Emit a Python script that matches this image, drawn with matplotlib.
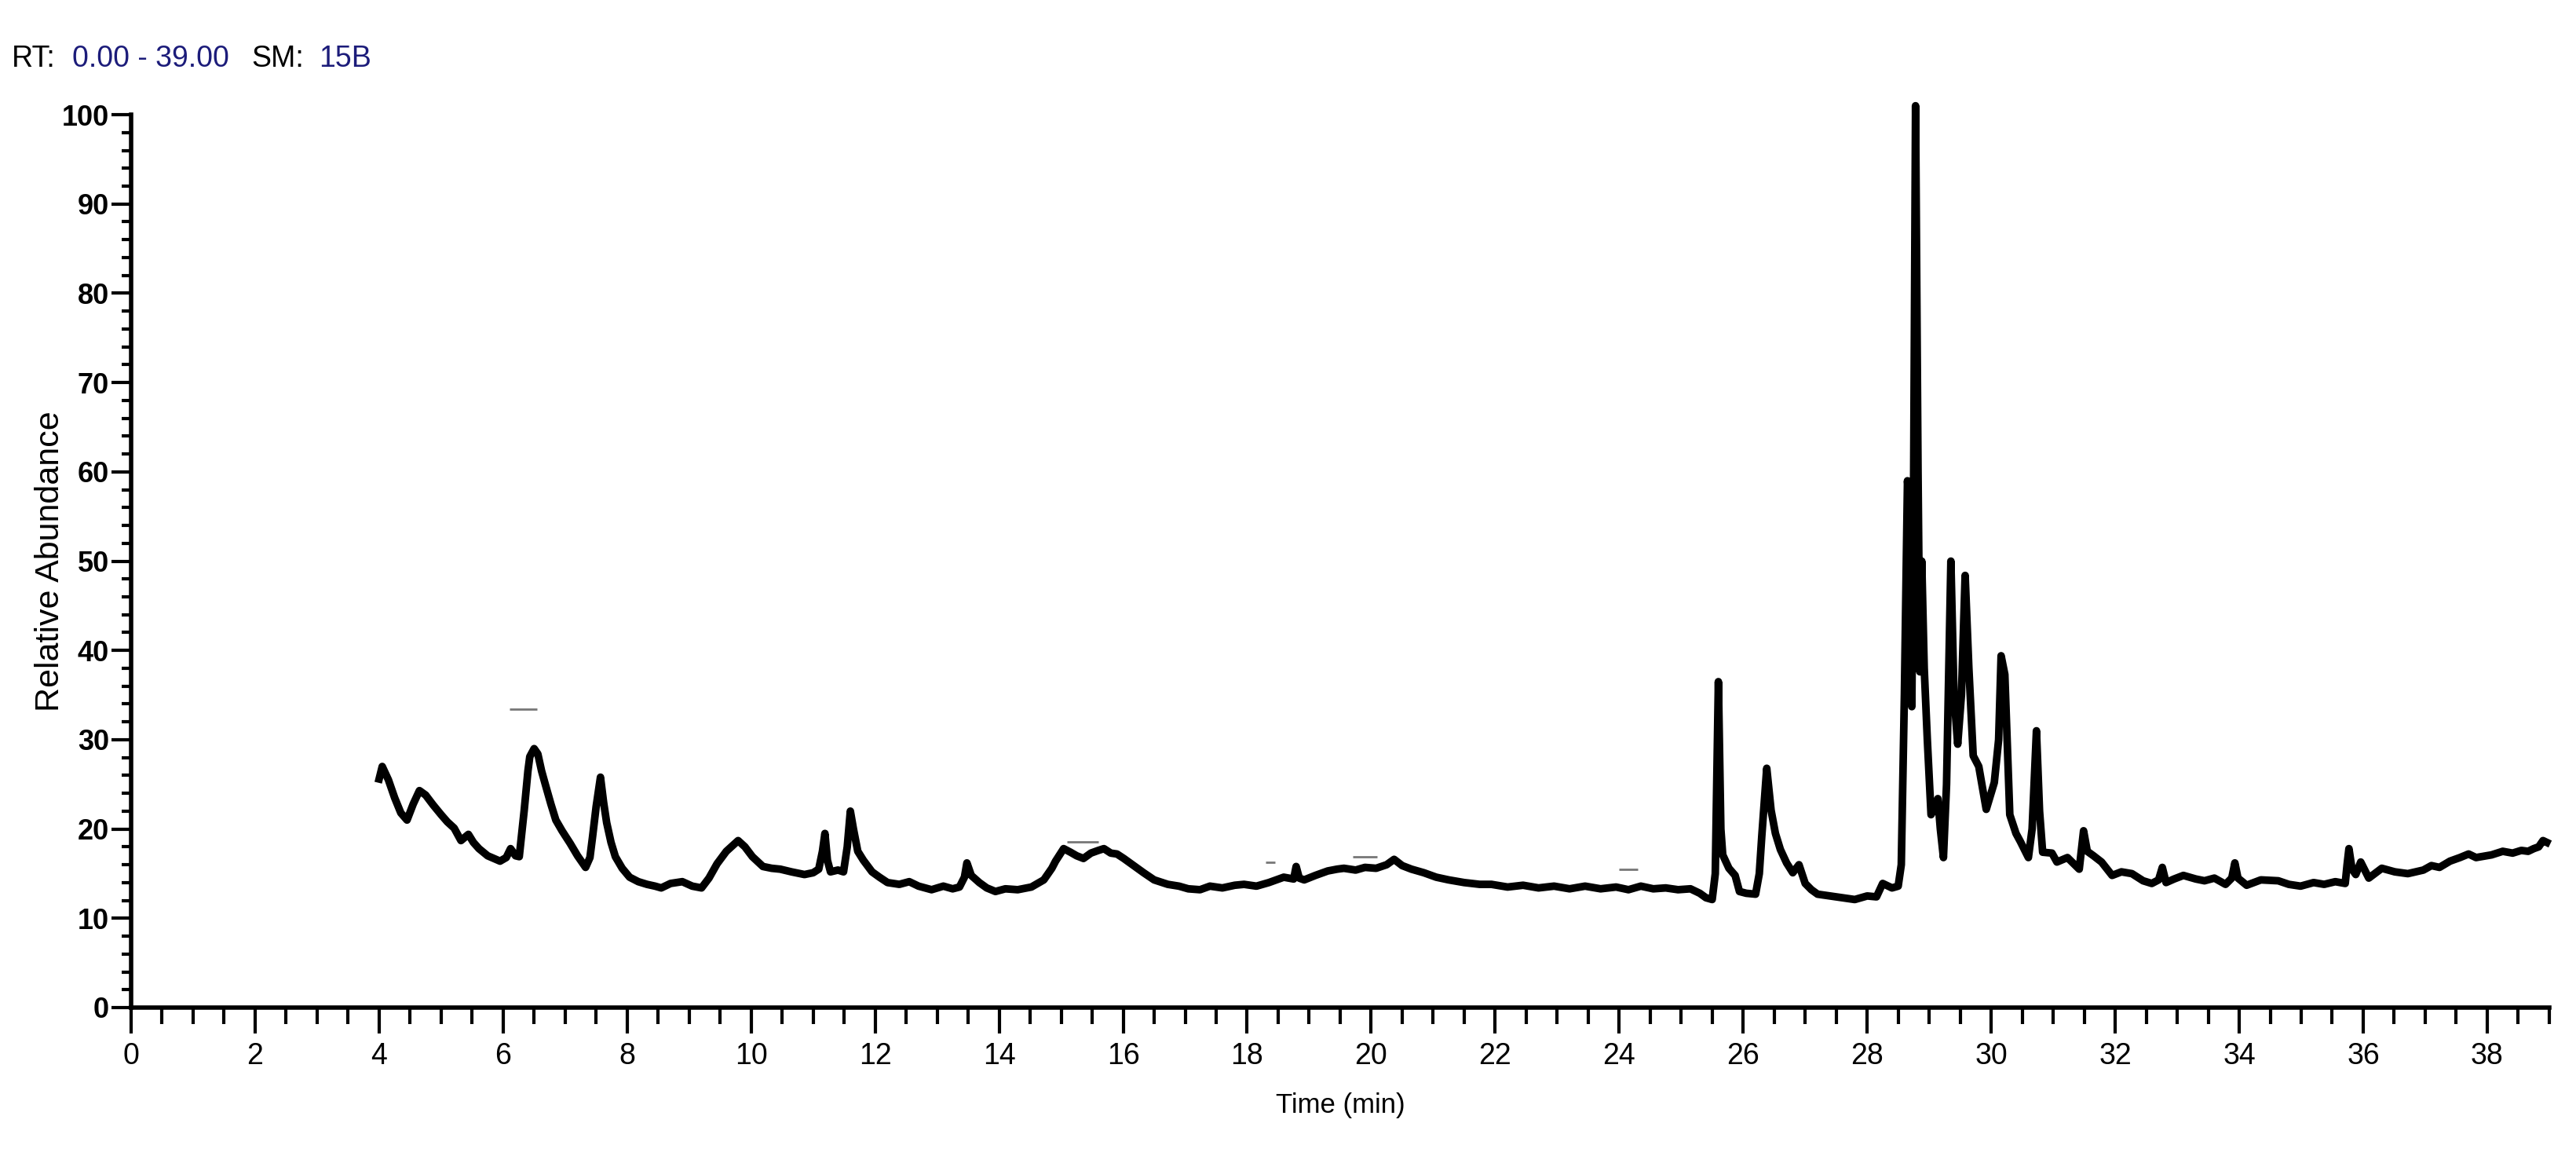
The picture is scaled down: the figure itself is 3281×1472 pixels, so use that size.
import matplotlib
matplotlib.use("Agg")
import matplotlib.pyplot as plt
from matplotlib.ticker import MultipleLocator

# chromatogram trace (time in min, relative abundance in %)
time_min = [
    4.00, 4.05, 4.15, 4.25, 4.35, 4.45, 4.55, 4.65, 4.75, 4.87, 5.00, 5.10, 5.21, 5.32, 5.44,
    5.52, 5.61, 5.75, 5.95, 6.05, 6.12, 6.20, 6.26, 6.30, 6.34, 6.40, 6.43, 6.50, 6.56, 6.62,
    6.68, 6.77, 6.85, 6.95, 7.08, 7.20, 7.33, 7.40, 7.44, 7.50, 7.57, 7.62, 7.67, 7.74, 7.81,
    7.92, 8.04, 8.18, 8.32, 8.45, 8.55, 8.70, 8.89, 9.05, 9.20, 9.32, 9.45, 9.60, 9.79, 9.90,
    10.02, 10.19, 10.33, 10.47, 10.65, 10.86, 11.00, 11.09, 11.15, 11.19, 11.23, 11.28, 11.40,
    11.49, 11.55, 11.60, 11.65, 11.72, 11.81, 11.95, 12.07, 12.20, 12.39, 12.55, 12.70, 12.91,
    13.10, 13.25, 13.36, 13.44, 13.48, 13.55, 13.68, 13.80, 13.94, 14.10, 14.30, 14.52, 14.72,
    14.85, 14.91, 15.04, 15.15, 15.25, 15.36, 15.48, 15.60, 15.69, 15.80, 15.90, 16.01, 16.15,
    16.33, 16.50, 16.72, 16.90, 17.05, 17.24, 17.40, 17.60, 17.80, 17.95, 18.15, 18.35, 18.59,
    18.75, 18.79, 18.84, 18.92, 19.10, 19.30, 19.45, 19.56, 19.75, 19.90, 20.08, 20.25, 20.37,
    20.50, 20.65, 20.85, 21.05, 21.25, 21.50, 21.75, 21.94, 22.20, 22.45, 22.70, 22.95, 23.20,
    23.45, 23.70, 23.95, 24.15, 24.35, 24.55, 24.75, 24.95, 25.15, 25.30, 25.40, 25.50, 25.55,
    25.60, 25.64, 25.67, 25.77, 25.87, 25.94, 26.05, 26.20, 26.26, 26.30, 26.38, 26.45, 26.52,
    26.60, 26.70, 26.80, 26.90, 27.00, 27.10, 27.20, 27.40, 27.60, 27.80, 28.00, 28.15, 28.25,
    28.40, 28.50, 28.55, 28.60, 28.65, 28.70, 28.72, 28.75, 28.78, 28.82, 28.85, 28.88, 28.92,
    28.97, 29.03, 29.10, 29.14, 29.18, 29.23, 29.28, 29.35, 29.40, 29.46, 29.52, 29.58, 29.64,
    29.71, 29.80, 29.92, 30.05, 30.12, 30.16, 30.22, 30.30, 30.40, 30.47, 30.60, 30.66, 30.73,
    30.78, 30.83, 30.98, 31.06, 31.23, 31.42, 31.49, 31.55, 31.65, 31.78, 31.95, 32.10, 32.27,
    32.45, 32.59, 32.70, 32.76, 32.82, 32.95, 33.10, 33.30, 33.44, 33.60, 33.78, 33.88, 33.93,
    33.98, 34.12, 34.35, 34.63, 34.80, 34.99, 35.20, 35.37, 35.55, 35.71, 35.74, 35.77, 35.82,
    35.88, 35.96, 36.09, 36.30, 36.51, 36.72, 36.97, 37.10, 37.23, 37.40, 37.56, 37.70, 37.82,
    38.07, 38.25, 38.41, 38.55, 38.66, 38.75, 38.83, 38.90, 38.96,
]
abundance = [
    25.6, 27.0, 25.5, 23.5, 21.8, 21.0, 22.8, 24.3, 23.8, 22.7, 21.6, 20.8, 20.1, 18.7, 19.4,
    18.5, 17.8, 17.0, 16.4, 16.8, 17.8, 17.0, 16.9, 19.5, 22.1, 26.5, 28.1, 29.0, 28.4, 26.5,
    25.0, 22.8, 21.0, 19.8, 18.4, 17.0, 15.7, 16.8, 19.0, 22.5, 25.8, 23.0, 20.7, 18.5, 16.9,
    15.6, 14.6, 14.1, 13.8, 13.6, 13.4, 13.9, 14.1, 13.6, 13.4, 14.5, 16.1, 17.5, 18.7, 18.0,
    16.9, 15.8, 15.6, 15.5, 15.2, 14.9, 15.1, 15.5, 17.5, 19.5, 16.5, 15.2, 15.4,
    15.2, 18.0, 22.0, 20.0, 17.5, 16.5, 15.2, 14.6, 14.0, 13.8, 14.1, 13.6, 13.2,
    13.6, 13.3, 13.5, 14.6, 16.2, 14.8, 14.0, 13.4, 13.0, 13.3, 13.2, 13.5, 14.3,
    15.6, 16.4, 17.8, 17.4, 17.0, 16.7, 17.3, 17.6, 17.8, 17.3, 17.2, 16.7, 16.0,
    15.1, 14.3, 13.8, 13.6, 13.3, 13.2, 13.6, 13.4, 13.7, 13.8, 13.6, 14.0, 14.6,
    14.4, 15.8, 14.5, 14.3, 14.8, 15.3, 15.5, 15.6, 15.4, 15.7, 15.6, 16.0, 16.6,
    15.9, 15.5, 15.1, 14.6, 14.3, 14.0, 13.8, 13.8, 13.5, 13.7, 13.4, 13.6, 13.3,
    13.6, 13.3, 13.5, 13.2, 13.6, 13.3, 13.4, 13.2, 13.3, 12.8, 12.3, 12.1, 15.0,
    36.5, 20.0, 17.1, 15.6, 14.8, 13.0, 12.8, 12.7, 15.0, 19.2, 26.8, 22.1, 19.5,
    17.7, 16.2, 15.1, 16.0, 13.9, 13.2, 12.7, 12.5, 12.3, 12.1, 12.5, 12.4, 13.9,
    13.4, 13.6, 16.0, 35.0, 59.0, 55.0, 33.7, 60.0, 101.0, 60.0, 37.6, 50.0, 38.0,
    30.0, 21.6, 22.5, 23.4, 20.0, 16.8, 25.0, 50.0, 35.0, 29.5, 35.0, 48.4, 38.0,
    28.2, 27.0, 22.2, 25.2, 30.0, 39.4, 37.3, 21.6, 19.5, 18.6, 16.8, 20.0, 31.0,
    22.0, 17.4, 17.3, 16.3, 16.8, 15.5, 19.8, 17.5, 17.0, 16.3, 14.8, 15.2, 15.0,
    14.2, 13.9, 14.3, 15.7, 14.0, 14.4, 14.8, 14.4, 14.2, 14.5, 13.8, 14.5, 16.2,
    14.5, 13.7, 14.3, 14.2, 13.8, 13.6, 14.0, 13.8, 14.1, 13.9, 16.0, 17.8, 15.5,
    14.9, 16.3, 14.5, 15.6, 15.2, 15.0, 15.4, 15.9, 15.7, 16.4, 16.8, 17.2, 16.8,
    17.1, 17.5, 17.3, 17.6, 17.5, 17.8, 18.0, 18.7, 18.5,
]

# faint leftover label marks above the trace
mark_start = [6.10, 15.10, 18.30, 19.70, 24.00]
mark_end = [6.55, 15.60, 18.45, 20.10, 24.30]
mark_level = [33.4, 18.6, 16.3, 16.9, 15.5]

FONT = ["Liberation Sans", "DejaVu Sans"]

fig = plt.figure(figsize=(32.81, 14.72), dpi=100)
ax = fig.add_axes([0.0509, 0.1284, 0.9387, 0.7724])

ax.plot(time_min, abundance, color="black", lw=7, solid_joinstyle="round", clip_on=False)
ax.hlines(mark_level, mark_start, mark_end, color="#777777", lw=2)

ax.set_xlim(0, 39)
ax.set_ylim(0, 100)
for side in ["top", "right"]:
    ax.spines[side].set_visible(False)
ax.spines["left"].set_linewidth(4)
ax.spines["bottom"].set_linewidth(4)

ax.xaxis.set_major_locator(MultipleLocator(2))
ax.xaxis.set_minor_locator(MultipleLocator(0.5))
ax.yaxis.set_major_locator(MultipleLocator(10))
ax.yaxis.set_minor_locator(MultipleLocator(2))
ax.tick_params(axis="x", which="major", length=24, width=3, labelsize=27, pad=8)
ax.tick_params(axis="x", which="minor", length=15, width=3)
ax.tick_params(axis="y", which="major", length=18, width=3, labelsize=26, pad=2)
ax.tick_params(axis="y", which="minor", length=9, width=3)

for lab in ax.get_xticklabels():
    lab.set_family(FONT)
for lab in ax.get_yticklabels():
    lab.set_family(FONT)
    lab.set_fontweight("bold")

ax.set_xlabel("Time (min)", fontsize=25, family=FONT)
ax.xaxis.set_label_coords(0.5, -0.095)
ax.set_ylabel("Relative Abundance", fontsize=31, family=FONT)
ax.yaxis.set_label_coords(-0.027, 0.5)

# header line
hdr = dict(fontsize=27, va="center", family=FONT)
fig.text(0.0046, 0.949, "RT:", color="black", **hdr)
fig.text(0.0280, 0.949, "0.00 - 39.00", color="#1c1c7a", **hdr)
fig.text(0.0975, 0.949, "SM:", color="black", **hdr)
fig.text(0.1237, 0.949, "15B", color="#1c1c7a", **hdr)

fig.savefig("out.png", dpi=100)
